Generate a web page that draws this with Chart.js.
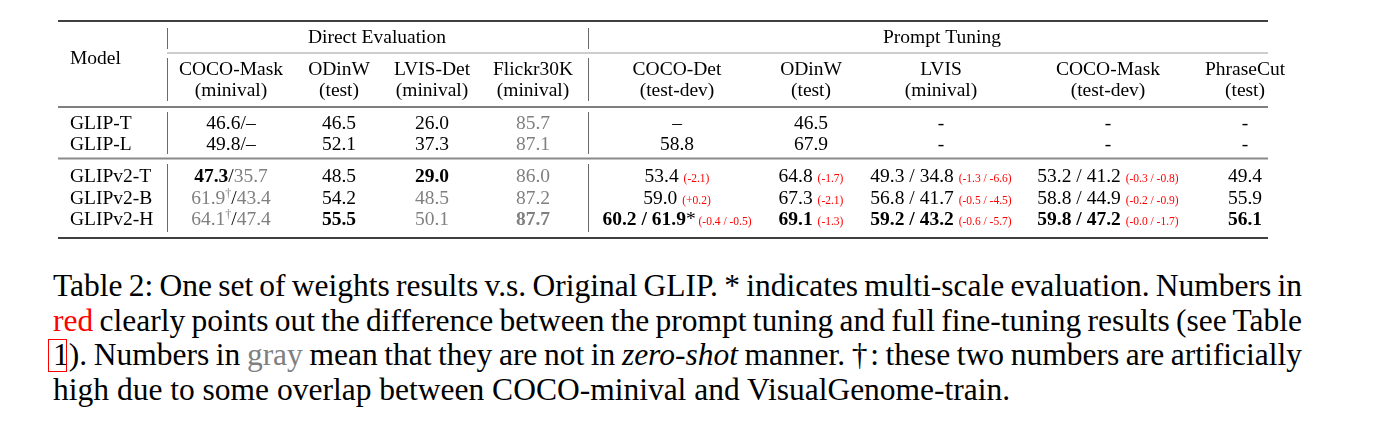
<!DOCTYPE html>
<html><head><meta charset="utf-8">
<script src="https://cdn.jsdelivr.net/npm/chart.js@4.4.1/dist/chart.umd.min.js"></script>
<style>
html,body{margin:0;padding:0;background:#fff;width:1373px;height:436px;overflow:hidden}
#wrap{position:absolute;left:0;top:0;width:1373px;height:250px}
#cap{position:absolute;left:53px;top:269px;width:1249px;font-family:'Liberation Serif','Times New Roman',serif;font-size:31.5px;line-height:34.6px;color:#000}
#cap .l{text-align:justify;text-align-last:justify;word-spacing:-4px;white-space:nowrap}
#cap .last{text-align:left;white-space:nowrap}
#cap .red{color:#ff0000}
#cap .gray{color:#808080}
#box{position:absolute;left:-5px;top:70px;width:19px;height:33px;border:1.6px solid #ff0000;box-sizing:border-box}
</style></head>
<body>
<div id="wrap"><canvas id="c" width="1373" height="250"></canvas></div>
<div id="cap">
<div class="l">Table 2: One set of weights results v.s. Original GLIP. * indicates multi-scale evaluation. Numbers in</div>
<div class="l"><span class="red">red</span> clearly points out the difference between the prompt tuning and full fine-tuning results (see Table</div>
<div class="l">1). Numbers in <span class="gray">gray</span> mean that they are not in <i>zero-shot</i> manner. †: these two numbers are artificially</div>
<div class="last">high due to some overlap between COCO-minival and VisualGenome-train.</div>
<div id="box"></div>
</div>
<script>
// ---------- data ----------
const models = ['GLIP-T', 'GLIP-L', 'GLIPv2-T', 'GLIPv2-B', 'GLIPv2-H'];
const groupTitles = ['Direct Evaluation', 'Prompt Tuning'];
const benchmarks = ['COCO-Mask', 'ODinW', 'LVIS-Det', 'Flickr30K', 'COCO-Det', 'ODinW', 'LVIS', 'COCO-Mask', 'PhraseCut'];
const splits = ['(minival)', '(test)', '(minival)', '(minival)', '(test-dev)', '(test)', '(minival)', '(test-dev)', '(test)'];
// cell markup: segments split by '|', optional style prefix  b=bold g=gray r=red-small s=superscript
const directCocoMask = ['46.6/–', '49.8/–', 'b:47.3|/|g:35.7', 'g:61.9|gs:†|/|g:43.4', 'g:64.1|gs:†|/|g:47.4'];
const directOdinw = ['46.5', '52.1', '48.5', '54.2', 'b:55.5'];
const directLvisDet = ['26.0', '37.3', 'b:29.0', 'g:48.5', 'g:50.1'];
const directFlickr = ['g:85.7', 'g:87.1', 'g:86.0', 'g:87.2', 'gb:87.7'];
const promptCocoDet = ['–', '58.8', '53.4 |r:(-2.1)', '59.0 |r:(+0.2)', 'b:60.2 / 61.9|*|r: (-0.4 / -0.5)'];
const promptOdinw = ['46.5', '67.9', '64.8 |r:(-1.7)', '67.3 |r:(-2.1)', 'b:69.1 |r:(-1.3)'];
const promptLvis = ['-', '-', '49.3 / 34.8 |r:(-1.3 / -6.6)', '56.8 / 41.7 |r:(-0.5 / -4.5)', 'b:59.2 / 43.2 |r:(-0.6 / -5.7)'];
const promptCocoMask = ['-', '-', '53.2 / 41.2 |r:(-0.3 / -0.8)', '58.8 / 44.9 |r:(-0.2 / -0.9)', 'b:59.8 / 47.2 |r:(-0.0 / -1.7)'];
const promptPhraseCut = ['-', '-', '49.4', '55.9', 'b:56.1'];
const columnValues = [directCocoMask, directOdinw, directLvisDet, directFlickr, promptCocoDet, promptOdinw, promptLvis, promptCocoMask, promptPhraseCut];

// ---------- layout (table geometry in scale units) ----------
const colX = [231, 339, 432, 533, 677, 811, 941, 1108, 1245];
const groupX = [377, 942];
const modelX = 70;
const rowY = [128.5, 149.5, 182, 203.5, 225];
const headY = {group: 43, model: 64, name: 75, split: 96};
const ruleX = [58, 1268];
const vRuleX = [167, 588];
const FONT = "'Liberation Serif','Times New Roman',serif";
const SIZE = 19.5;

function parseCell(str) {
  return str.split('|').map(seg => {
    const m = seg.match(/^([bgrs]+):(.*)$/);
    return m ? {flags: m[1], text: m[2]} : {flags: '', text: seg};
  });
}
function segFont(f) {
  if (f.includes('r')) return '11.5px ' + FONT;
  if (f.includes('s')) return '12px ' + FONT;
  return (f.includes('b') ? 'bold ' : '') + SIZE + 'px ' + FONT;
}
function drawRich(ctx, str, x, y, align) {
  const segs = parseCell(str);
  let total = 0;
  segs.forEach(s => { ctx.font = segFont(s.flags); s.w = ctx.measureText(s.text).width; total += s.w; });
  let cx = align === 'left' ? x : x - total / 2;
  ctx.textBaseline = 'alphabetic';
  ctx.textAlign = 'left';
  segs.forEach(s => {
    ctx.font = segFont(s.flags);
    ctx.fillStyle = s.flags.includes('r') ? '#ff0000' : (s.flags.includes('g') ? '#808080' : '#000');
    ctx.fillText(s.text, cx, s.flags.includes('s') ? y - 7 : y);
    cx += s.w;
  });
}

// datasets: one per table column, each point is a cell
const datasets = [];
datasets.push({label: 'Model', cells: models, align: 'left',
  data: models.map((m, r) => ({x: modelX, y: rowY[r]}))});
columnValues.forEach((vals, c) => {
  datasets.push({label: benchmarks[c], cells: vals, align: 'center',
    data: vals.map((v, r) => ({x: colX[c], y: rowY[r]}))});
});

const tablePlugin = {
  id: 'tablePlugin',
  afterDatasetsDraw(chart) {
    const ctx = chart.ctx, xs = chart.scales.x, ys = chart.scales.y;
    const X = v => xs.getPixelForValue(v), Y = v => ys.getPixelForValue(v);
    ctx.save();
    function hline(y, x0, x1, w, col) {
      ctx.beginPath(); ctx.strokeStyle = col; ctx.lineWidth = w;
      ctx.moveTo(X(x0), Y(y)); ctx.lineTo(X(x1), Y(y)); ctx.stroke();
    }
    function vline(x, y0, y1) {
      ctx.beginPath(); ctx.strokeStyle = '#6a6a6a'; ctx.lineWidth = 1;
      ctx.moveTo(X(x) + 0.5, Y(y0)); ctx.lineTo(X(x) + 0.5, Y(y1)); ctx.stroke();
    }
    hline(21, ruleX[0], ruleX[1], 1.6, '#000');
    hline(53, vRuleX[0], ruleX[1], 1, '#9a9a9a');
    hline(107, ruleX[0], ruleX[1], 1.2, '#000');
    hline(158.5, ruleX[0], ruleX[1], 2, '#8a8a8a');
    hline(238, ruleX[0], ruleX[1], 1.6, '#000');
    [[28, 49], [58, 101], [112, 154], [164, 232]].forEach(([a, b]) => vRuleX.forEach(x => vline(x, a, b)));
    // headers
    groupTitles.forEach((g, i) => drawRich(ctx, g, X(groupX[i]), Y(headY.group), 'center'));
    drawRich(ctx, 'Model', X(modelX), Y(headY.model), 'left');
    benchmarks.forEach((b, i) => {
      drawRich(ctx, b, X(colX[i]), Y(headY.name), 'center');
      drawRich(ctx, splits[i], X(colX[i]), Y(headY.split), 'center');
    });
    // cells
    chart.data.datasets.forEach((ds, di) => {
      chart.getDatasetMeta(di).data.forEach((pt, i) => drawRich(ctx, ds.cells[i], pt.x, pt.y, ds.align));
    });
    ctx.restore();
  }
};

new Chart(document.getElementById('c'), {
  type: 'scatter',
  data: {datasets},
  options: {
    responsive: false, animation: false, events: [],
    layout: {padding: 0},
    elements: {point: {radius: 0, hoverRadius: 0}},
    plugins: {legend: {display: false}, tooltip: {enabled: false}},
    scales: {
      x: {type: 'linear', display: false, min: 0, max: 1373},
      y: {type: 'linear', display: false, min: 0, max: 250, reverse: true}
    }
  },
  plugins: [tablePlugin]
});
</script>
</body></html>
